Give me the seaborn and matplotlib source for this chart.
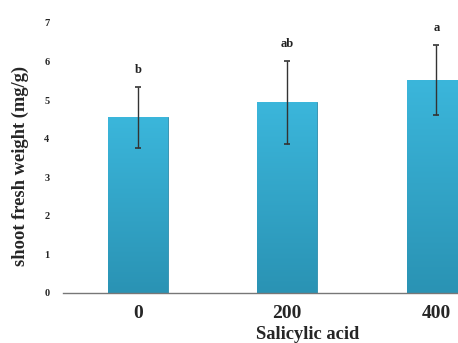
import numpy as np
import pandas as pd
import matplotlib
matplotlib.use("Agg")
import matplotlib.pyplot as plt
import seaborn as sns
from matplotlib.colors import LinearSegmentedColormap

# data
doses = ["0", "200", "400"]
weight = [4.55, 4.94, 5.53]
err = [0.80, 1.07, 0.91]
letters = ["b", "ab", "a"]

df = pd.DataFrame({"dose": doses, "weight": weight})

sns.set_style("white")
plt.rcParams["font.family"] = ["Liberation Serif", "DejaVu Serif"]
plt.rcParams["font.weight"] = "bold"

fig = plt.figure(figsize=(4.58, 3.43), dpi=100)
ax = fig.add_axes([0.138, 0.146, 0.978, 0.787])

sns.barplot(data=df, x="dose", y="weight", color="#34A9CE", width=0.4,
            edgecolor="#2A8DAD", linewidth=0.6, ax=ax)

# vertical gradient inside each bar
cmap = LinearSegmentedColormap.from_list("bar", ["#2A93B4", "#3BB6DB"])
grad = np.linspace(0, 1, 100).reshape(-1, 1)
for p in ax.patches:
    x0, y0 = p.get_x(), p.get_y()
    im = ax.imshow(grad, extent=[x0, x0 + p.get_width(), y0, y0 + p.get_height()],
                   origin="lower", cmap=cmap, aspect="auto", zorder=p.get_zorder())
    im.set_clip_path(p)

ax.errorbar(range(len(doses)), weight, yerr=err, fmt="none", ecolor="#333333",
            elinewidth=1.0, capsize=2.5, capthick=1.2, zorder=5)

for i, (w, e, t) in enumerate(zip(weight, err, letters)):
    ax.text(i, w + e + 0.28, t, ha="center", va="bottom", fontsize=9,
            fontweight="bold", color="#222222")

ax.set_xlim(-0.5, 2.5)
ax.set_ylim(0, 7)
ax.set_yticks(range(0, 8))
ax.set_xticks([0.5, 1.5], minor=True)
ax.tick_params(axis="x", which="major", length=0, labelsize=14, pad=9)
ax.tick_params(axis="x", which="minor", length=3, color="#999999", direction="out")
ax.tick_params(axis="y", length=2, color="#999999", labelsize=7.5, pad=8)
for lab in ax.get_xticklabels() + ax.get_yticklabels():
    lab.set_fontweight("bold")

ax.set_xlabel("Salicylic acid", fontsize=13.3, fontweight="bold", va="top")
ax.xaxis.set_label_coords(0.545, -0.122)
ax.set_ylabel("shoot fresh weight (mg/g)", fontsize=13.3, fontweight="bold", va="center")
ax.yaxis.set_label_coords(-0.095, 0.47)

sns.despine(ax=ax, left=True)
ax.spines["bottom"].set_color("#777777")
ax.spines["bottom"].set_linewidth(1.0)

fig.savefig("out.png", dpi=100)
